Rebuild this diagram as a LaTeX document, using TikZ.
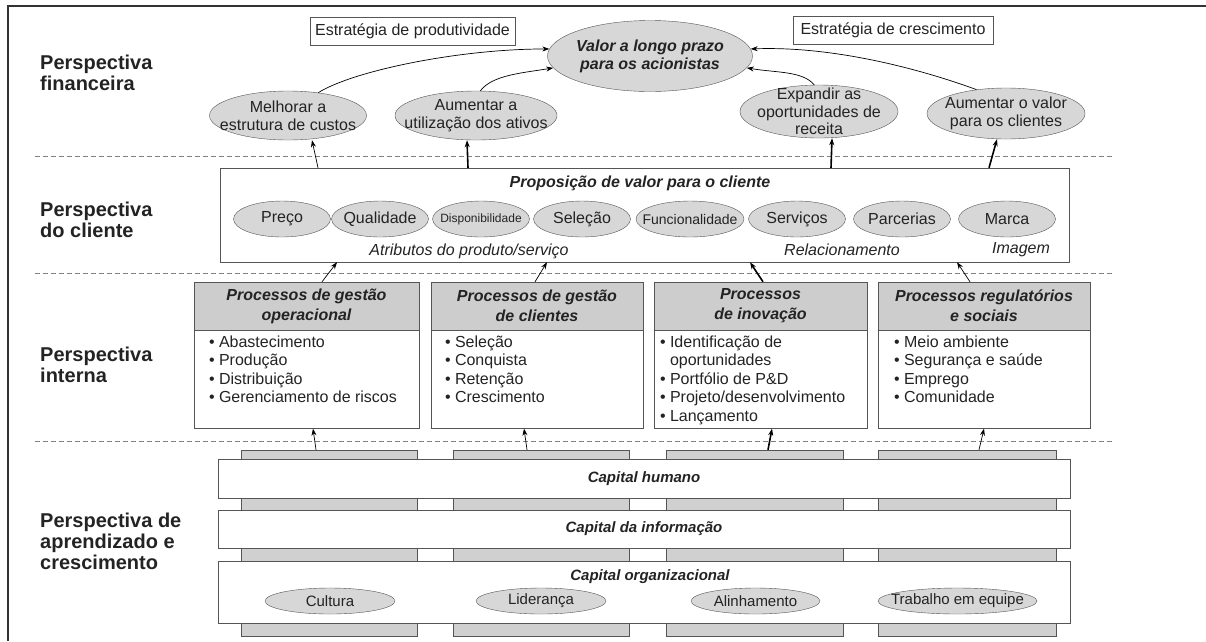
\documentclass[tikz,border=0pt]{standalone}
\usepackage{fontspec}
\setmainfont{Liberation Sans}
\usepackage{tikz}
\usetikzlibrary{positioning,shapes.geometric,arrows.meta}
\definecolor{ovalgray}{RGB}{215,215,215}
\definecolor{headgray}{RGB}{205,205,205}
\definecolor{pillargray}{RGB}{208,208,208}
\definecolor{edgegray}{RGB}{85,85,85}
\definecolor{inkgray}{RGB}{35,35,35}

\begin{document}
\begin{tikzpicture}[x=1pt,y=-1pt,
	font=\fontsize{16}{18}\selectfont, text=inkgray,
	oval/.style={ellipse, draw=edgegray, fill=ovalgray, inner sep=0pt},
	ovaltext/.style={align=center, inner sep=0pt},
	custoval/.style={oval, minimum width=97pt, minimum height=36pt},
	orgoval/.style={oval, minimum height=26pt},
	stratbox/.style={draw=edgegray, minimum height=28pt, inner sep=0pt},
	perspname/.style={anchor=west, align=left, inner sep=0pt, font=\fontsize{20}{21}\selectfont\bfseries},
	headbox/.style={draw=edgegray, fill=headgray, minimum height=48pt, inner sep=0pt, align=center, font=\fontsize{16}{20}\selectfont\bfseries\itshape},
	bodybox/.style={draw=edgegray, minimum height=98pt, inner sep=0pt, anchor=north},
	itemlist/.style={anchor=north west, align=left, inner sep=0pt, font=\fontsize{16}{18.5}\selectfont},
	band/.style={draw=edgegray, fill=white, minimum width=852pt, inner sep=0pt, font=\fontsize{15}{17}\selectfont\bfseries\itshape},
	pillar/.style={draw=edgegray, fill=pillargray, minimum height=186pt, inner sep=0pt},
	layerline/.style={draw=gray, dash pattern=on 5pt off 3pt, line width=0.8pt},
	flowarrow/.style={-{Stealth[length=7pt,width=5pt]}, draw=black, line width=0.7pt},
	boldflowarrow/.style={flowarrow, line width=1.6pt}]

	\useasboundingbox (0,0) rectangle (1206,641);
	\draw[line width=2pt, edgegray!60!black] (8,641) -- (8,6) -- (1206,6);

	% perspective names
	\node[perspname] (lfin) at (40,73) {Perspectiva\\financeira};
	\node[perspname] (lcli) at (40,220) {Perspectiva\\do cliente};
	\node[perspname] (lint) at (40,365) {Perspectiva\\interna};
	\node[perspname] (llearn) at (40,541) {Perspectiva de\\aprendizado e\\crescimento};

	\draw[layerline] (35,156) -- (1113,156);
	\draw[layerline] (35,273) -- (1113,273);
	\draw[layerline] (35,441) -- (1113,441);

	% financial perspective
	\node[stratbox, minimum width=205pt] (prodstrat) at (412.5,31) {Estratégia de produtividade};
	\node[stratbox, minimum width=200pt] (growstrat) at (893,30.5) {Estratégia de crescimento};
	\node[oval, minimum width=205pt, minimum height=71pt,
		label={[ovaltext,font=\fontsize{16}{18}\selectfont\bfseries\itshape]center:Valor a longo prazo\\para os acionistas}] (valor) at (650,56) {};
	\node[oval, minimum width=157pt, minimum height=49pt,
		label={[ovaltext]center:Melhorar a\\estrutura de custos}] (custos) at (288,115.5) {};
	\node[oval, minimum width=162pt, minimum height=49pt,
		label={[ovaltext]center:Aumentar a\\utilização dos ativos}] (ativos) at (476,115.5) {};
	\node[oval, minimum width=158pt, minimum height=53pt,
		label={[ovaltext,font=\fontsize{16}{17.5}\selectfont]center:Expandir as\\oportunidades de\\receita}] (receita) at (819,111.5) {};
	\node[oval, minimum width=158pt, minimum height=51pt,
		label={[ovaltext]center:Aumentar o valor\\para os clientes}] (valorcli) at (1006,113.5) {};

	\draw[flowarrow] (custos.37) .. controls +(35,-22) and +(-90,0) .. (valor.176);
	\draw[flowarrow] (ativos.80) .. controls +(12,-16) and +(-30,5) .. (valor.187);
	\draw[flowarrow] (receita.100) .. controls +(-12,-14) and +(30,5) .. (valor.-7);
	\draw[flowarrow] (valorcli.141) .. controls +(-60,-22) and +(80,-3) .. (valor.4);

	% customer perspective
	\node[draw=edgegray, minimum width=849pt, minimum height=94pt, inner sep=0pt] (custbox) at (644.5,215) {};
	\node[font=\fontsize{16}{18}\selectfont\bfseries\itshape] (custtitle) at (640,183) {Proposição de valor para o cliente};
	\node[custoval, label={[ovaltext]center:Preço}] (preco) at (282,219) {};
	\node[custoval, label={[ovaltext]center:Qualidade}] (qualid) at (380,219) {};
	\node[custoval, label={[ovaltext,font=\fontsize{12}{14}\selectfont]center:Disponibilidade}] (dispon) at (481,219) {};
	\node[custoval, label={[ovaltext]center:Seleção}] (selec) at (582,219) {};
	\node[custoval, minimum width=108pt, label={[ovaltext,font=\fontsize{14}{16}\selectfont]center:Funcionalidade}] (funcion) at (690,219) {};
	\node[custoval, label={[ovaltext]center:Serviços}] (servic) at (797,219) {};
	\node[custoval, label={[ovaltext]center:Parcerias}] (parcer) at (902,219) {};
	\node[custoval, label={[ovaltext]center:Marca}] (marca) at (1007,219) {};
	\node[font=\fontsize{16}{18}\selectfont\itshape] (atrib) at (469,251) {Atributos do produto/serviço};
	\node[font=\fontsize{16}{18}\selectfont\itshape] (relac) at (842,250) {Relacionamento};
	\node[font=\fontsize{16}{18}\selectfont\itshape] (imagem) at (1021,250) {Imagem};

	\draw[flowarrow] (custbox.north -| 318,0) -- (custos.south -| 312,0);
	\draw[boldflowarrow] (custbox.north -| 468,0) -- (ativos.south -| 467,0);
	\draw[boldflowarrow] (custbox.north -| 831,0) -- (receita.south -| 832,0);
	\draw[boldflowarrow] (custbox.north -| 989,0) -- (valorcli.south -| 997,0);

	% internal perspective
	\node[headbox, minimum width=225pt] (opshead) at (306.5,306) {Processos de gestão\\operacional};
	\node[bodybox, minimum width=225pt] (opsbody) at (opshead.south) {};
	\node[itemlist] (opsitems) at ([xshift=15pt,yshift=-5pt]opsbody.north west)
		{\textbullet\ Abastecimento\\\textbullet\ Produção\\\textbullet\ Distribuição\\\textbullet\ Gerenciamento de riscos};

	\node[headbox, minimum width=212pt] (clihead) at (537,306) {Processos de gestão\\de clientes};
	\node[bodybox, minimum width=212pt] (clibody) at (clihead.south) {};
	\node[itemlist] (cliitems) at ([xshift=14pt,yshift=-5pt]clibody.north west)
		{\textbullet\ Seleção\\\textbullet\ Conquista\\\textbullet\ Retenção\\\textbullet\ Crescimento};

	\node[headbox, minimum width=213pt] (inohead) at (760.5,306) {Processos\\de inovação};
	\node[bodybox, minimum width=213pt] (inobody) at (inohead.south) {};
	\node[itemlist] (inoitems) at ([xshift=6pt,yshift=-5pt]inobody.north west)
		{\textbullet\ Identificação de\\\phantom{\textbullet\ }oportunidades\\\textbullet\ Portfólio de P\&D\\\textbullet\ Projeto/desenvolvimento\\\textbullet\ Lançamento};

	\node[headbox, minimum width=212pt] (reghead) at (984,306) {Processos regulatórios\\e sociais};
	\node[bodybox, minimum width=212pt] (regbody) at (reghead.south) {};
	\node[itemlist] (regitems) at ([xshift=16pt,yshift=-5pt]regbody.north west)
		{\textbullet\ Meio ambiente\\\textbullet\ Segurança e saúde\\\textbullet\ Emprego\\\textbullet\ Comunidade};

	\draw[flowarrow] (opshead.north -| 322,0) -- (custbox.south -| 337,0);
	\draw[flowarrow] (clihead.north -| 535,0) -- (custbox.south -| 547,0);
	\draw[boldflowarrow] (inohead.north -| 763,0) -- (custbox.south -| 750,0);
	\draw[flowarrow] (reghead.north -| 970,0) -- (custbox.south -| 957,0);

	% learning and growth perspective
	\node[pillar, minimum width=176pt] (pil1) at (329,543) {};
	\node[pillar, minimum width=176pt] (pil2) at (541,543) {};
	\node[pillar, minimum width=177pt] (pil3) at (754.5,543) {};
	\node[pillar, minimum width=178pt] (pil4) at (967,543) {};
	\node[band, minimum height=39pt] (humano) at (644,478.5) {Capital humano};
	\node[band, minimum height=38pt] (informa) at (644,529) {Capital da informação};
	\node[band, minimum height=62pt] (organiz) at (644,592) {};
	\node[font=\fontsize{15}{17}\selectfont\bfseries\itshape] (orgtitle) at (650,577) {Capital organizacional};
	\node[orgoval, minimum width=130pt, label={[ovaltext,font=\fontsize{15}{17}\selectfont]center:Cultura}] (cultura) at (330,601) {};
	\node[orgoval, minimum width=130pt, label={[ovaltext,font=\fontsize{15}{17}\selectfont]center:Liderança}] (lideranca) at (541,601) {};
	\node[orgoval, minimum width=129pt, label={[ovaltext,font=\fontsize{15}{17}\selectfont]center:Alinhamento}] (alinham) at (755.5,601) {};
	\node[orgoval, minimum width=159pt, label={[ovaltext,font=\fontsize{15}{17}\selectfont]center:Trabalho em equipe}] (equipe) at (957.5,601) {};

	\draw[flowarrow] (pil1.north -| 316,0) -- (opsbody.south -| 313,0);
	\draw[flowarrow] (pil2.north -| 527,0) -- (clibody.south -| 524,0);
	\draw[boldflowarrow] (pil3.north -| 768,0) -- (inobody.south -| 772,0);
	\draw[flowarrow] (pil4.north -| 979,0) -- (regbody.south -| 984,0);
\end{tikzpicture}
\end{document}
